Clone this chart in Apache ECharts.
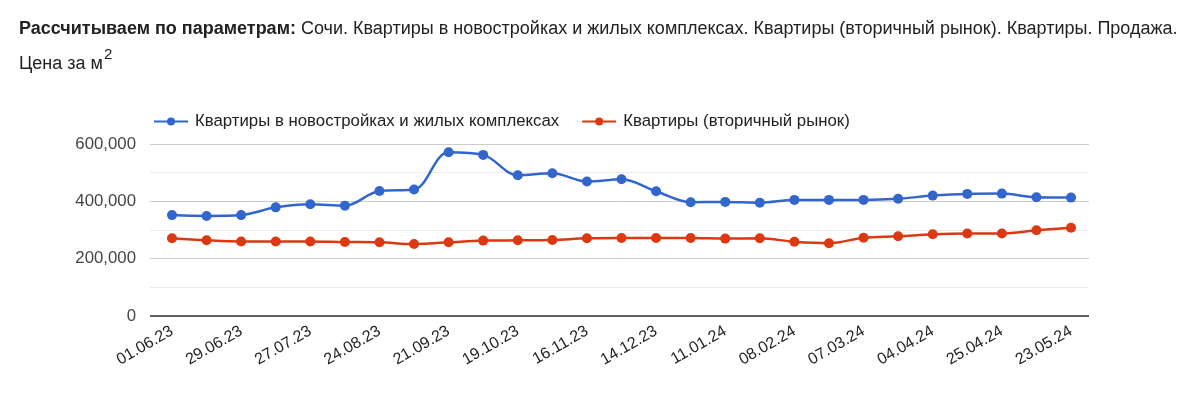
<!DOCTYPE html>
<html><head><meta charset="utf-8">
<script src="https://cdn.jsdelivr.net/npm/echarts@6/dist/echarts.min.js"></script>
<style>html,body{margin:0;padding:0;background:#fff}#c{width:1200px;height:414px}</style>
</head><body><div id="c"></div>
<script>
const categories = ['01.06.23','15.06.23','29.06.23','13.07.23','27.07.23','10.08.23','24.08.23','07.09.23','21.09.23','05.10.23','19.10.23','02.11.23','16.11.23','30.11.23','14.12.23','28.12.23','11.01.24','25.01.24','08.02.24','22.02.24','07.03.24','21.03.24','04.04.24','11.04.24','25.04.24','09.05.24','23.05.24'];
const newBuild = [352000,349000,352000,379000,390000,385000,436000,441000,571000,562000,491000,498000,469000,477000,435000,397000,398000,395000,405000,405000,405000,409000,420000,426000,427000,414000,413000];
const secondary = [271000,264000,260000,260000,260000,258000,257000,251000,257000,263000,264000,265000,271000,272000,272000,272000,270000,271000,259000,254000,273000,278000,285000,288000,288000,299000,308000];
const labelIdx = [0,2,4,6,8,10,12,14,16,18,20,22,24,26];
const seriesNames = ['Квартиры в новостройках и жилых комплексах','Квартиры (вторичный рынок)'];

const chart = echarts.init(document.getElementById('c'));
const font = 'Liberation Sans, Arial, sans-serif';
chart.setOption({
  animation:false,
  textStyle:{fontFamily:font},
  title:{
    left:19, top:12, padding:0,
    text:'{b|Рассчитываем по параметрам:} {n|Сочи. Квартиры в новостройках и жилых комплексах. Квартиры (вторичный рынок). Квартиры. Продажа.}\n{n|Цена за м}{s|2}',
    textStyle:{
      fontWeight:'normal',
      rich:{
        b:{fontWeight:'bold',fontSize:18,color:'#222',fontFamily:font,lineHeight:35},
        n:{fontWeight:'normal',fontSize:18,color:'#222',fontFamily:font,lineHeight:35},
        s:{fontWeight:'normal',fontSize:15,color:'#222',fontFamily:font,verticalAlign:'top',padding:[0,0,8,1],lineHeight:35}
      }
    }
  },
  legend:{
    left:153, top:113, padding:0, itemWidth:34, itemHeight:10, itemGap:22,
    textStyle:{fontSize:16.8,color:'#222',fontFamily:font,padding:[0,0,0,2]},
    data:seriesNames
  },
  grid:{left:150,right:111,top:144,bottom:98,containLabel:false},
  xAxis:{
    type:'value', min:-0.636, max:26.52,
    axisLine:{show:false}, axisTick:{show:false}, splitLine:{show:false},
    axisLabel:{
      customValues:labelIdx, rotate:30, fontSize:16, color:'#222', margin:14,
      formatter:v=>categories[Math.round(v)]
    }
  },
  yAxis:{
    type:'value', min:0, max:600000, interval:200000,
    axisLine:{show:false}, axisTick:{show:false},
    axisLabel:{fontSize:16.8,color:'#444',margin:14,formatter:v=>v.toLocaleString('en-US')},
    splitLine:{lineStyle:{color:'#ccc',width:1}},
    minorTick:{show:false,splitNumber:2},
    minorSplitLine:{show:true,lineStyle:{color:'#ebebeb',width:1}}
  },
  series:[
    {name:seriesNames[0],type:'line',smooth:0.35,symbol:'circle',symbolSize:10,
     data:newBuild.map((v,i)=>[i,v]),itemStyle:{color:'#3366cc'},lineStyle:{width:2.5,color:'#3366cc'},
     markLine:{silent:true,symbol:'none',label:{show:false},lineStyle:{color:'#333',width:1.5,type:'solid'},data:[{yAxis:0}]}},
    {name:seriesNames[1],type:'line',smooth:0.35,symbol:'circle',symbolSize:10,
     data:secondary.map((v,i)=>[i,v]),itemStyle:{color:'#dc3912'},lineStyle:{width:2.5,color:'#dc3912'}}
  ]
});
</script></body></html>
